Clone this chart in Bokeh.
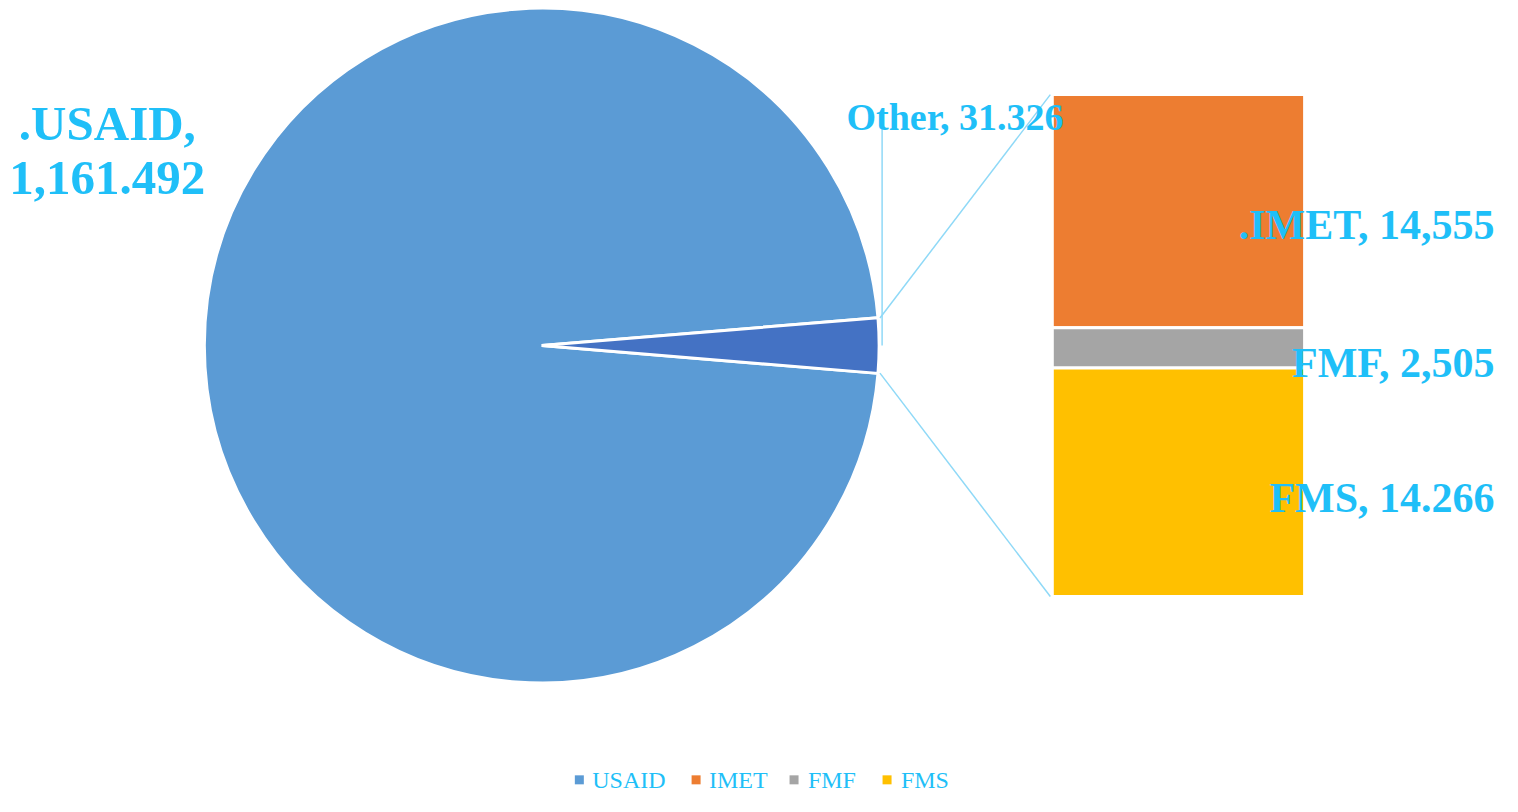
import math
from bokeh.plotting import figure
from bokeh.models import Range1d, ColumnDataSource
from bokeh.core.properties import value
from bokeh.embed import file_html
from bokeh.resources import INLINE

# ---- data ----
pie_names = ["USAID", "Other"]
pie_values = [1161.492, 31.326]
bar_names = ["IMET", "FMF", "FMS"]
bar_values = [14.555, 2.505, 14.266]
bar_labels = [".IMET, 14,555", "FMF, 2,505", "FMS, 14.266"]
usaid_label = [".USAID,", "1,161.492"]
other_label = "Other, 31.326"
legend_names = ["USAID", "IMET", "FMF", "FMS"]

# ---- styles ----
C_USAID = "#5B9BD5"
C_OTHER = "#4472C4"
bar_colors = ["#ED7D31", "#A5A5A5", "#FFC000"]
legend_colors = [C_USAID] + bar_colors
TXT = "#1FBFF8"
CONN = "#8FD9F7"
FONT = value("Liberation Serif")

W, H = 1502, 796
def Y(img_y):
    return 812 - img_y

p = figure(width=W, height=H, x_range=Range1d(0, 1518), y_range=Range1d(0, 812),
           output_backend="svg", toolbar_location=None, x_axis_type=None, y_axis_type=None,
           min_border=0, outline_line_color=None)
p.grid.visible = False
p.background_fill_color = "white"
p.border_fill_color = "white"

# ---- pie ----
cx, cy, r = 547, Y(352), 341
total = sum(pie_values)
half = math.pi * pie_values[1] / total
p.wedge(x=[cx], y=[cy], radius=r, start_angle=[half], end_angle=[2 * math.pi - half],
        fill_color=C_USAID, line_color="white", line_width=3)
p.wedge(x=[cx], y=[cy], radius=r, start_angle=[-half], end_angle=[half],
        fill_color=C_OTHER, line_color="white", line_width=3)

# ---- bar ----
bx0, bx1 = 1063, 1318
btop = Y(96)
bheight = 512
scale = bheight / sum(bar_values)
tops, bottoms = [], []
cur = btop
for v in bar_values:
    tops.append(cur)
    cur -= v * scale
    bottoms.append(cur)
src = ColumnDataSource(dict(left=[bx0] * 3, right=[bx1] * 3, top=tops, bottom=bottoms, color=bar_colors))
p.quad(left="left", right="right", top="top", bottom="bottom", fill_color="color",
       line_color="white", line_width=3, source=src)

# ---- connectors ----
ex = cx + r * math.cos(half)
ey_top = cy + r * math.sin(half)
ey_bot = cy - r * math.sin(half)
p.segment(x0=[ex + 2, ex + 2], y0=[ey_top, ey_bot], x1=[bx0 - 2, bx0 - 2], y1=[btop, bottoms[-1]],
          line_color=CONN, line_width=1.5)
# leader for Other label
p.segment(x0=[cx + r + 3], y0=[cy], x1=[cx + r + 3], y1=[Y(123)], line_color=CONN, line_width=1.5)

# ---- labels ----
p.text(x=[108, 108], y=[Y(125), Y(181)], text=usaid_label, text_font=FONT, text_font_style="bold",
       text_font_size="49px", text_color=TXT, text_align="center", text_baseline="alphabetic")
p.text(x=[855], y=[Y(119)], text=[other_label], text_font=FONT, text_font_style="bold",
       text_font_size="38px", text_color=TXT, text_align="left", text_baseline="alphabetic")
label_baselines = [Y(229), Y(370), Y(508)]
p.text(x=[1510] * 3, y=label_baselines, text=bar_labels, text_font=FONT, text_font_style="bold",
       text_font_size="42px", text_color=TXT, text_align="right", text_baseline="alphabetic")

# ---- legend (manual) ----
sq_x = [585, 703, 802, 896]
txt_x = [598, 716, 816, 910]
ly = Y(795)
p.scatter(x=sq_x, y=[ly] * 4, marker="square", size=9, fill_color=legend_colors, line_color=None)
p.text(x=txt_x, y=[Y(795)] * 4, text=legend_names, text_font=FONT, text_font_size="24px",
       text_color=TXT, text_align="left", text_baseline="alphabetic")

open("out.html", "w").write(file_html(p, INLINE))
